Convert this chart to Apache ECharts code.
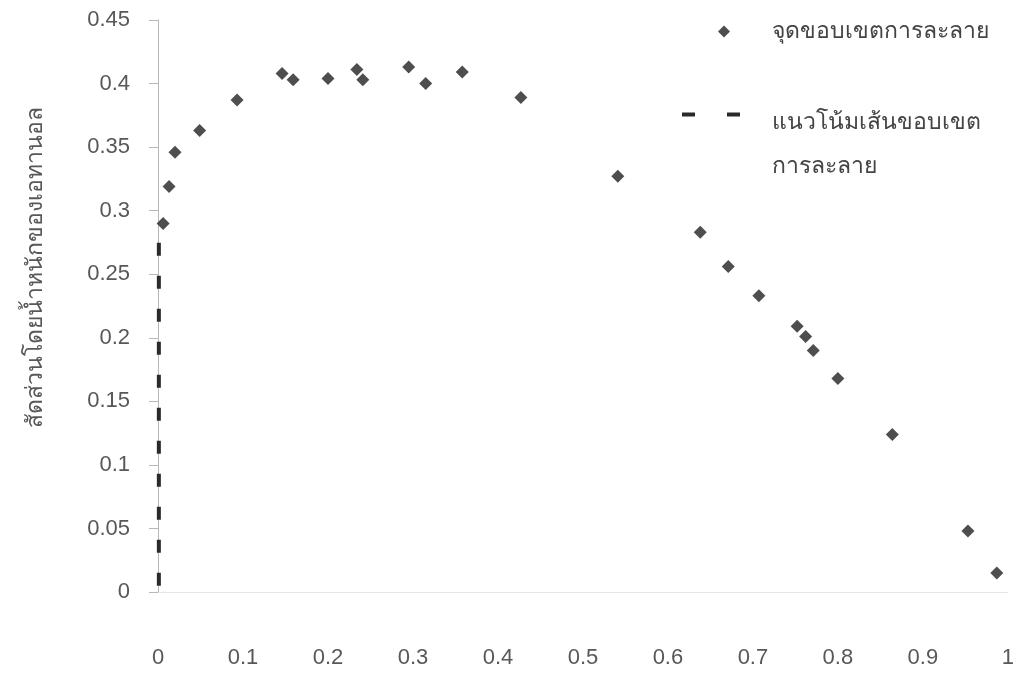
<!DOCTYPE html>
<html>
<head>
<meta charset="utf-8">
<script src="https://cdn.jsdelivr.net/npm/echarts@6/dist/echarts.min.js"></script>
<style>
html,body{margin:0;padding:0;background:#fff;}
#chart{width:1017px;height:675px;}
</style>
</head>
<body>
<div id="chart"></div>
<script>
// Scatter: boundary points (x, y)
const pointX = [0.006,0.013,0.020,0.049,0.093,0.146,0.159,0.200,0.234,0.241,0.295,0.315,0.358,0.427,0.541,0.638,0.671,0.707,0.752,0.762,0.771,0.800,0.864,0.953,0.987];
const pointY = [0.290,0.319,0.346,0.363,0.387,0.408,0.403,0.404,0.411,0.403,0.413,0.400,0.409,0.389,0.327,0.283,0.256,0.233,0.209,0.201,0.190,0.168,0.124,0.048,0.015];
// Trend line (dashed)
const trendX = [0.001,0.001];
const trendY = [0.005,0.290];

const seriesNames = ['จุดขอบเขตการละลาย','แนวโน้มเส้นขอบเขต'];
const seriesName2Line2 = 'การละลาย';
const yAxisName = 'สัดส่วนโดยน้ำหนักของเอทานอล';

const FONT = '"Liberation Sans", Arial, sans-serif';
const FS = 22;

const chart = echarts.init(document.getElementById('chart'));
chart.setOption({
  backgroundColor:'#fff',
  animation:false,
  grid:{left:158,right:9,top:20,bottom:83},
  xAxis:{
    type:'value',min:0,max:1,interval:0.1,
    axisLine:{show:true,lineStyle:{color:'#e6e6e6',width:1}},
    axisTick:{show:false},
    splitLine:{show:false},
    axisLabel:{color:'#585858',fontSize:FS,fontFamily:FONT,margin:55}
  },
  yAxis:{
    type:'value',min:0,max:0.45,interval:0.05,
    axisLine:{show:true,lineStyle:{color:'#b8b8b8',width:1}},
    axisTick:{show:true,inside:false,length:9,lineStyle:{color:'#b8b8b8'}},
    splitLine:{show:false},
    axisLabel:{color:'#585858',fontSize:FS,fontFamily:FONT,margin:28},
    name:yAxisName,nameLocation:'middle',nameRotate:90,nameGap:111,
    nameTextStyle:{color:'#585858',fontSize:23,fontFamily:FONT,padding:[0,0,0,78]}
  },
  legend:[
    {data:[seriesNames[0]],left:718,top:20,padding:0,itemWidth:12,itemHeight:12,
     textStyle:{color:'#444',fontSize:23,fontFamily:FONT,padding:[0,0,0,37]}},
    {data:[seriesNames[1]],left:682,top:111,padding:0,itemWidth:59,itemHeight:20,
     icon:'path://M0,0L13,0L13,4L0,4Z M45,0L58,0L58,4L45,4Z M29,20L29.02,20L29.02,19.98Z',
     textStyle:{color:'#444',fontSize:23,fontFamily:FONT,padding:[0,0,0,26]}}
  ],
  graphic:[
    {type:'text',left:772,top:155,style:{text:seriesName2Line2,fill:'#444',font:'23px '+FONT}}
  ],
  series:[
    {name:seriesNames[0],type:'scatter',symbol:'diamond',symbolSize:13,
     itemStyle:{color:'#222'},
     data:pointX.map((x,i)=>[x,pointY[i]]),z:3},
    {name:seriesNames[1],type:'line',symbol:'none',showSymbol:false,
     lineStyle:{color:'#2a2a2a',width:4,type:[13,20],cap:'butt'},
     itemStyle:{color:'#2a2a2a'},
     data:trendX.map((x,i)=>[x,trendY[i]]),z:2}
  ]
});
</script>
</body>
</html>
